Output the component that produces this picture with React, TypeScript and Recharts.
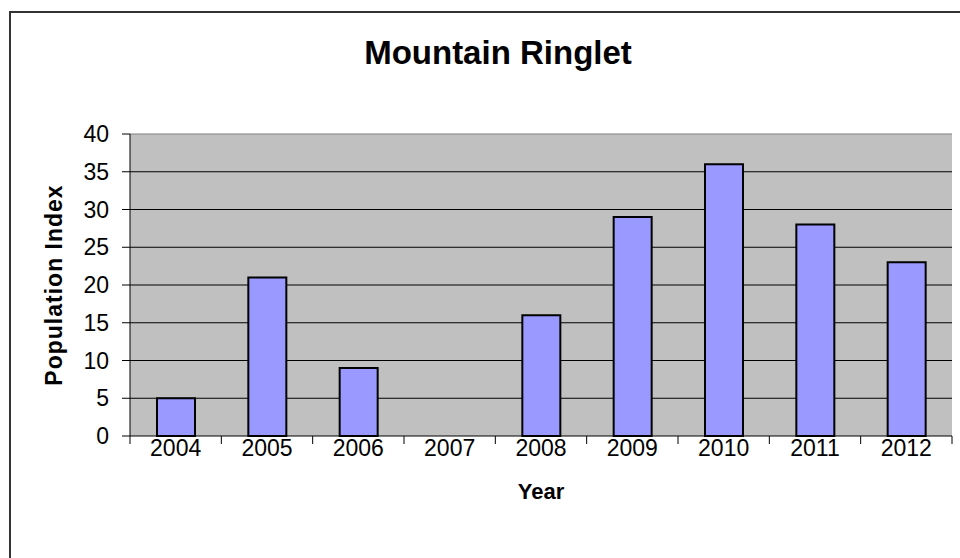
import React from 'react'
import { BarChart, Bar, XAxis, YAxis, CartesianGrid, ReferenceLine } from 'recharts'

const years = ['2004', '2005', '2006', '2007', '2008', '2009', '2010', '2011', '2012']
const populationIndex = [5, 21, 9, null, 16, 29, 36, 28, 23]
const yTicks = [0, 5, 10, 15, 20, 25, 30, 35, 40]
const gridValues = [5, 10, 15, 20, 25, 30, 35]

const data = years.map((year, i) => ({ year, value: populationIndex[i] }))

const FONT = '"Liberation Sans", Arial, sans-serif'

function YearTick(props: any) {
  const { x, y, payload, index, visibleTicksCount } = props
  const half = payload.offset ?? 45.7
  const last = index === (visibleTicksCount ?? years.length) - 1
  return (
    <g>
      <line x1={x - half} y1={y - 8} x2={x - half} y2={y} stroke="#000" />
      {last && <line x1={x + half} y1={y - 8} x2={x + half} y2={y} stroke="#000" />}
      <text x={x} y={y + 12} textAnchor="middle" fontSize={23} fontFamily={FONT} fill="#000">
        {payload.value}
      </text>
    </g>
  )
}

function YearLabel(props: any) {
  const { viewBox } = props
  return (
    <text
      x={viewBox.x + viewBox.width / 2}
      y={499}
      textAnchor="middle"
      fontSize={22}
      fontWeight="bold"
      fontFamily={FONT}
      fill="#000"
    >
      Year
    </text>
  )
}

function IndexLabel(props: any) {
  const { viewBox } = props
  const cy = viewBox.y + viewBox.height / 2
  return (
    <text
      x={62}
      y={cy}
      transform={`rotate(-90, 62, ${cy})`}
      textAnchor="middle"
      fontSize={23}
      fontWeight="bold"
      fontFamily={FONT}
      letterSpacing={1}
      fill="#000"
    >
      Population Index
    </text>
  )
}

export default function App() {
  return (
    <div style={{ position: 'absolute', left: 0, top: 0, width: 960, height: 558, background: '#fff', overflow: 'hidden' }}>
      <div
        style={{
          position: 'absolute',
          left: 9,
          top: 11,
          width: 1000,
          height: 600,
          borderLeft: '2px solid #333',
          borderTop: '2px solid #333',
        }}
      />
      <div
        style={{
          position: 'absolute',
          left: 0,
          width: 996,
          top: 34,
          textAlign: 'center',
          fontFamily: FONT,
          fontWeight: 'bold',
          fontSize: 33,
          color: '#000',
        }}
      >
        Mountain Ringlet
      </div>
      <div style={{ position: 'absolute', left: 0, top: 0 }}>
        <BarChart
          width={960}
          height={558}
          data={data}
          margin={{ top: 134, right: 8, bottom: 62, left: 0 }}
          barSize={38}
        >
          <CartesianGrid
            horizontal
            vertical={false}
            horizontalValues={gridValues}
            stroke="#000"
            fill="#C0C0C0"
            fillOpacity={1}
          />
          <XAxis
            dataKey="year"
            height={60}
            axisLine={{ stroke: '#000' }}
            tickLine={false}
            tick={<YearTick />}
            interval={0}
            label={<YearLabel />}
          />
          <YAxis
            domain={[0, 40]}
            ticks={yTicks}
            width={130}
            axisLine={{ stroke: '#000' }}
            tickLine={{ stroke: '#000' }}
            tickSize={8}
            tickMargin={13}
            tick={{ fontSize: 23, fontFamily: FONT, fill: '#000' }}
            label={<IndexLabel />}
          />
          <YAxis
            yAxisId="right"
            orientation="right"
            width={0}
            domain={[0, 40]}
            tick={false}
            tickLine={false}
            axisLine={{ stroke: '#808080' }}
          />
          <ReferenceLine y={40} stroke="#808080" />
          <Bar dataKey="value" fill="#9999FF" stroke="#000" strokeWidth={2} isAnimationActive={false} />
        </BarChart>
      </div>
    </div>
  )
}
